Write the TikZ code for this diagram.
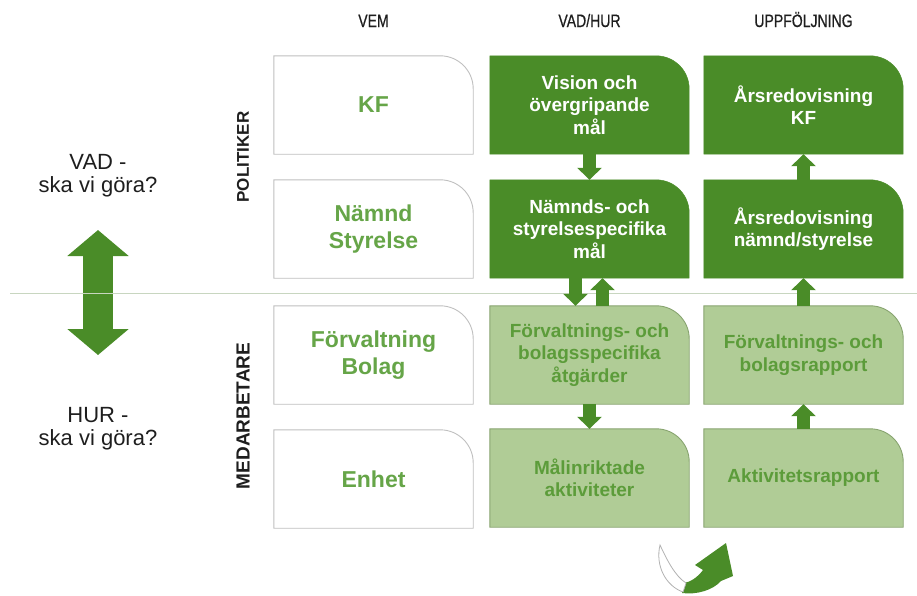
\documentclass[tikz,border=0pt]{standalone}
\usepackage{fontspec}
\setmainfont{Liberation Sans}
\newfontfamily\narrowfont[FakeStretch=0.78,FakeBold=0.6]{Liberation Sans}
\usetikzlibrary{arrows.meta,backgrounds}

\definecolor{darkgreen}{RGB}{74,140,40}
\definecolor{lightgreen}{RGB}{176,204,150}
\definecolor{lightedge}{RGB}{136,164,112}
\definecolor{midgreen}{RGB}{92,156,58}
\definecolor{textgreen}{RGB}{102,165,72}
\definecolor{boxgray}{RGB}{192,192,192}
\definecolor{divline}{RGB}{200,214,192}
\definecolor{txtdark}{RGB}{30,30,30}

\tikzset{
  cell/.style={minimum width=199pt, minimum height=98pt, inner sep=0pt, align=center,
    font=\bfseries\fontsize{19}{22.5}\selectfont},
  vem/.style={cell, text=textgreen, font=\bfseries\fontsize{23}{27}\selectfont},
  polbox/.style={cell, text=white},
  medbox/.style={cell, text=midgreen},
  corner/.style={insert path={(#1.south west) -- (#1.north west) -- ([xshift=-33pt]#1.north east)
    arc[start angle=90, end angle=0, radius=33pt] -- (#1.south east) -- cycle}},
  vemline/.style={draw=boxgray, fill=white, line width=0.9pt},
  polfill/.style={draw=darkgreen, fill=darkgreen},
  medfill/.style={draw=lightedge, fill=lightgreen, line width=0.9pt},
  head/.style={anchor=base, text=txtdark, font=\narrowfont\fontsize{18}{20}\selectfont},
  side/.style={text=txtdark, align=center, font=\fontsize{22}{23}\selectfont},
  group/.style={rotate=90, text=txtdark, font=\bfseries\fontsize{17}{20}\selectfont},
  flow/.style={draw=darkgreen, line width=13pt, -{Triangle[width=24pt,length=12pt]}},
  bigarrow/.style={draw=darkgreen, line width=30pt,
    {Triangle[width=60pt,length=26pt]}-{Triangle[width=60pt,length=26pt]}}
}

\begin{document}
\begin{tikzpicture}[x=1pt,y=1pt]

\useasboundingbox (0,0) rectangle (917,-595);

% kolumnrubriker
\node[head] (hvem) at (373.5,-27) {VEM};
\node[head] (hvad) at (589.5,-27) {VAD/HUR};
\node[head] (hupp) at (803.5,-27) {UPPFÖLJNING};

% VEM
\node[vem] (kf) at (373.5,-105) {KF};
\node[vem] (namnd) at (373.5,-229) {Nämnd\\Styrelse};
\node[vem] (forv) at (373.5,-355) {Förvaltning\\Bolag};
\node[vem] (enhet) at (373.5,-479) {Enhet};

% VAD/HUR
\node[polbox] (vision) at (589.5,-105) {Vision och\\övergripande\\mål};
\node[polbox] (nmal) at (589.5,-229) {Nämnds- och\\styrelsespecifika\\mål};
\node[medbox] (fatg) at (589.5,-355) {Förvaltnings- och\\bolagsspecifika\\åtgärder};
\node[medbox] (aktiv) at (589.5,-478) {Målinriktade\\aktiviteter};

% UPPFÖLJNING
\node[polbox] (arkf) at (803.5,-105) {Årsredovisning\\KF};
\node[polbox] (arnamnd) at (803.5,-229) {Årsredovisning\\nämnd/styrelse};
\node[medbox] (frap) at (803.5,-355) {Förvaltnings- och\\bolagsrapport};
\node[medbox] (arap) at (803.5,-478) {Aktivitetsrapport};

\begin{scope}[on background layer]
\foreach \n in {kf,namnd,forv,enhet}
  \draw[vemline, corner=\n];
\foreach \n in {vision,nmal,arkf,arnamnd}
  \draw[polfill, corner=\n];
\foreach \n in {fatg,aktiv,frap,arap}
  \draw[medfill, corner=\n];
\end{scope}

\node[group] (pol) at (243,-157) {POLITIKER};
\node[group, font=\bfseries\fontsize{19}{20}\selectfont] (med) at (243,-416) {MEDARBETARE};

\node[side] (vad) at (98,-176) {VAD -\\ska vi göra?};
\node[side] (hur) at (98,-429) {HUR -\\ska vi göra?};

\coordinate (upp) at (98,-230);
\coordinate (ned) at (98,-355);
\draw[bigarrow] (upp) -- (ned);

\coordinate (divl) at (10,-293);
\coordinate (divr) at (917,-293);
\draw[divline, line width=1pt] (divl) -- (divr);

% pilar
\draw[flow] (vision.south) -- (nmal.north);
\draw[flow] ([xshift=-14pt]nmal.south) -- ([xshift=-14pt]fatg.north);
\draw[flow] ([xshift=13pt]fatg.north) -- ([xshift=13pt]nmal.south);
\draw[flow] (fatg.south) -- (aktiv.north);

\draw[flow] (arap.north) -- (frap.south);
\draw[flow] (frap.north) -- (arnamnd.south);
\draw[flow] (arnamnd.north) -- (arkf.south);

% cykelpil
\fill[darkgreen] (682,-593) .. controls (697,-595) and (713,-590) .. (721,-581) -- (733,-576)
  -- (726,-543) -- (695,-565) -- (703,-570) .. controls (697,-578) and (690,-582) .. (684,-583) -- cycle;
\draw[gray!60, fill=white, line width=0.8pt] (683,-592) .. controls (666,-586) and (655,-566) .. (660,-545)
  .. controls (667,-560) and (675,-576) .. (686,-583) -- cycle;

\end{tikzpicture}
\end{document}
